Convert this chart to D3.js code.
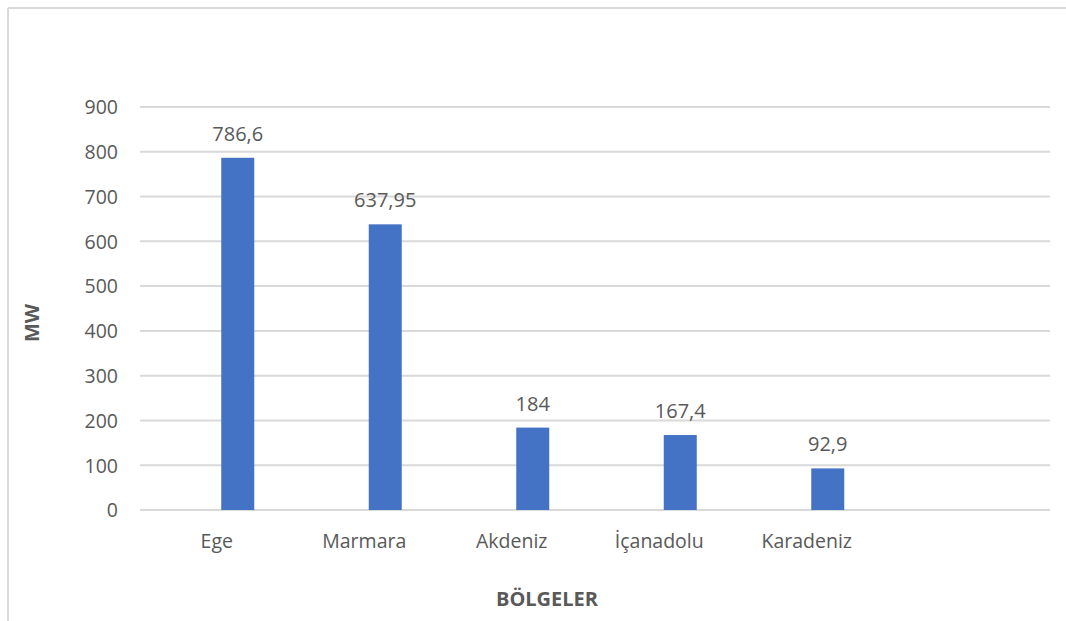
<!DOCTYPE html>
<html>
<head>
<meta charset="utf-8">
<script src="https://cdn.jsdelivr.net/npm/d3@7"></script>
<style>
  html, body { margin: 0; padding: 0; background: #fff; }
  svg { display: block; }
  text { font-family: "Open Sans", "Noto Sans", sans-serif; fill: #595959; }
</style>
</head>
<body>
<svg id="chart" width="1066" height="621"></svg>
<script>
const categories = ["Ege", "Marmara", "Akdeniz", "İçanadolu", "Karadeniz"];
const values = [786.6, 637.95, 184, 167.4, 92.9];
const valueLabels = ["786,6", "637,95", "184", "167,4", "92,9"];
const yTicks = [0, 100, 200, 300, 400, 500, 600, 700, 800, 900];
const xTitle = "BÖLGELER";
const yTitle = "MW";

const svg = d3.select("#chart");

// outer frame (top and left edges visible)
svg.append("line").attr("x1", 8).attr("x2", 1066).attr("y1", 8).attr("y2", 8)
  .attr("stroke", "#d9d9d9").attr("stroke-width", 2);
svg.append("line").attr("x1", 8).attr("x2", 8).attr("y1", 8).attr("y2", 621)
  .attr("stroke", "#d9d9d9").attr("stroke-width", 2);

const plotLeft = 140, plotRight = 1050, plotTop = 107, plotBottom = 510;

const y = d3.scaleLinear().domain([0, 900]).range([plotBottom, plotTop]);
const x = d3.scaleBand().domain([...categories, ""]).range([143, 1028]);

// gridlines
svg.append("g").selectAll("line").data(yTicks).join("line")
  .attr("x1", plotLeft).attr("x2", plotRight)
  .attr("y1", d => y(d)).attr("y2", d => y(d))
  .attr("stroke", "#d9d9d9").attr("stroke-width", 2);

// y axis labels
const yAxis = d3.axisLeft(y).tickValues(yTicks).tickSize(0).tickPadding(0);
const gy = svg.append("g").attr("transform", `translate(118,0)`).call(yAxis);
gy.select(".domain").remove();
gy.selectAll("text").attr("font-size", 19.5).attr("dy", "0.35em")
  .style("font-family", '"Open Sans", sans-serif').attr("fill", "#595959");

// x axis labels
const xAxis = d3.axisBottom(x).tickValues(categories).tickSize(0).tickPadding(0);
const gx = svg.append("g").attr("transform", `translate(0,548)`).call(xAxis);
gx.select(".domain").remove();
gx.selectAll("text").attr("font-size", 19.5).attr("dy", 0).attr("y", 0)
  .style("font-family", '"Open Sans", sans-serif').attr("fill", "#595959");

// bars
const barW = 33, barOff = 21;
const data = categories.map((c, i) => ({ c, v: values[i], l: valueLabels[i] }));
svg.append("g").selectAll("rect").data(data).join("rect")
  .attr("x", d => x(d.c) + x.bandwidth() / 2 + barOff - barW / 2)
  .attr("width", barW)
  .attr("y", d => y(d.v))
  .attr("height", d => y(0) - y(d.v))
  .attr("fill", "#4472c4");

// value labels
svg.append("g").selectAll("text").data(data).join("text")
  .attr("x", d => x(d.c) + x.bandwidth() / 2 + barOff)
  .attr("y", d => y(d.v) - 17)
  .attr("text-anchor", "middle")
  .attr("font-size", 20)
  .text(d => d.l);

// axis titles
svg.append("text").attr("x", 547).attr("y", 606).attr("text-anchor", "middle")
  .attr("font-size", 20).attr("font-weight", "bold").text(xTitle);
svg.append("text").attr("transform", "translate(39,323) rotate(-90)")
  .attr("text-anchor", "middle").attr("font-size", 20).attr("font-weight", "bold").text(yTitle);
</script>
</body>
</html>
